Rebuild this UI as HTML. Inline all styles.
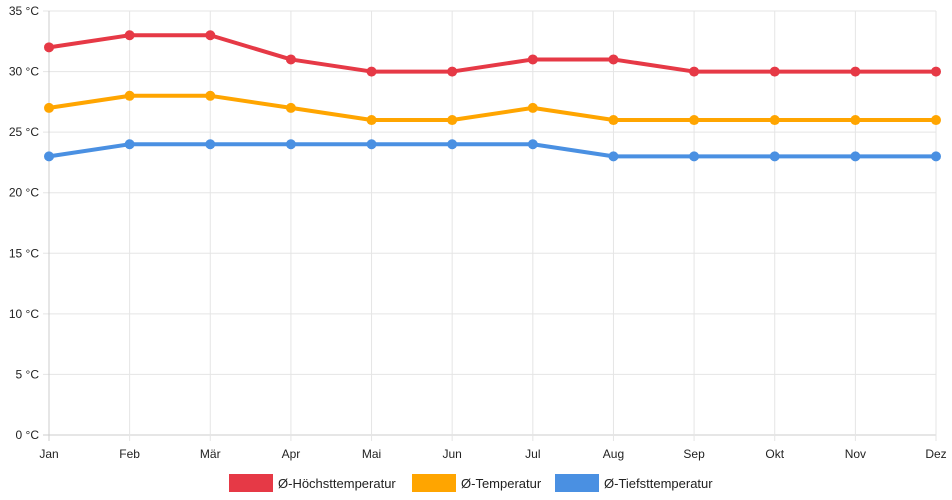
<!DOCTYPE html>
<html><head><meta charset="utf-8"><style>
html,body{margin:0;padding:0;background:#fff;}
svg{display:block;font-family:"Liberation Sans",sans-serif;}
</style></head><body>
<svg id="chart" width="952" height="500" xmlns="http://www.w3.org/2000/svg">
<g id="grid"></g>
<g id="axes"></g>
<g id="series"></g>
<g id="legend"></g>
</svg>
<script>
const months = ["Jan","Feb","Mär","Apr","Mai","Jun","Jul","Aug","Sep","Okt","Nov","Dez"];
const highTemps = [32,33,33,31,30,30,31,31,30,30,30,30];
const avgTemps = [27,28,28,27,26,26,27,26,26,26,26,26];
const lowTemps = [23,24,24,24,24,24,24,23,23,23,23,23];
const yTicks = [0,5,10,15,20,25,30,35];
const seriesNames = ["Ø-Höchsttemperatur","Ø-Temperatur","Ø-Tiefsttemperatur"];
const seriesColors = ["#e63946","#ffa500","#4a90e2"];

const NS="http://www.w3.org/2000/svg";
const X0=49,X1=936,Y0=435,Y1=11,YMAX=35;
function xScale(i){return X0+(X1-X0)*i/(months.length-1);}
function yScale(v){return Y0-(Y0-Y1)*v/YMAX;}
function mk(tag,attrs,parent){const e=document.createElementNS(NS,tag);for(const k in attrs)e.setAttribute(k,attrs[k]);parent.appendChild(e);return e;}

const grid=document.getElementById('grid'),axes=document.getElementById('axes'),ser=document.getElementById('series'),leg=document.getElementById('legend');
yTicks.forEach(t=>{
  const y=yScale(t);
  const l=mk('line',{x1:X0-6,x2:X1,y1:y,y2:y,stroke:t===0?'#cccccc':'#e5e5e5','stroke-width':1},grid);
  
  
  const tx=mk('text',{x:X0-10,y:y+4,'text-anchor':'end','font-size':12,fill:'#222'},axes);
  tx.textContent=t+' °C';
  
  
});
months.forEach((m,i)=>{
  const x=xScale(i);
  const l=mk('line',{x1:x,x2:x,y1:Y1,y2:Y0+6,stroke:i===0?'#cccccc':'#e5e5e5','stroke-width':1},grid);
  
  
  const tx=mk('text',{x:x,y:Y0+23,'text-anchor':'middle','font-size':12,fill:'#222'},axes);
  tx.textContent=m;
  
  
});
[highTemps,avgTemps,lowTemps].forEach((data,s)=>{
  const g=mk('g',{},ser);
  
  
  const pts=data.map((v,i)=>xScale(i)+','+yScale(v)).join(' ');
  const pl=mk('polyline',{points:pts,fill:'none',stroke:seriesColors[s],'stroke-width':4,'stroke-linejoin':'round'},g);
  
  
  data.forEach((v,i)=>{
    const c=mk('circle',{cx:xScale(i),cy:yScale(v),r:5,fill:seriesColors[s]},g);
    
    
  });
});
const legX=[229,412,555];
seriesNames.forEach((n,s)=>{
  const g=mk('g',{},leg);
  
  
  mk('rect',{x:legX[s],y:474,width:44,height:18,fill:seriesColors[s]},g);
  const t=mk('text',{x:legX[s]+49,y:488,'font-size':13,fill:'#222'},g);
  t.textContent=n;
});
</script>
</body></html>
